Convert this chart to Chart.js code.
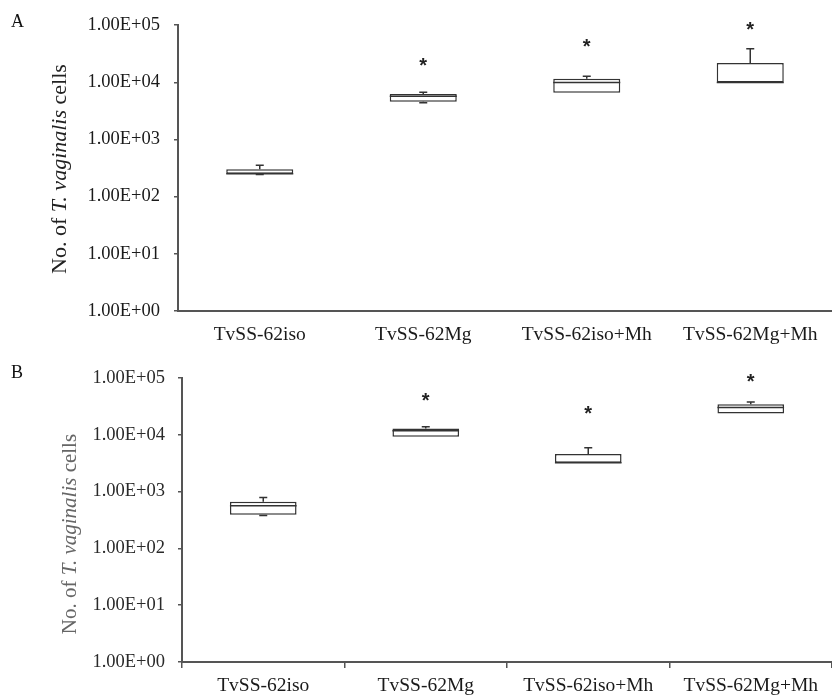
<!DOCTYPE html>
<html>
<head>
<meta charset="utf-8">
<script src="https://cdn.jsdelivr.net/npm/chart.js@4.4.1/dist/chart.umd.min.js"></script>
<style>
  html, body { margin: 0; padding: 0; background: #fff; }
  #wrap { position: relative; width: 832px; height: 695px; overflow: hidden; }
  .panel { position: absolute; left: 0; width: 832px; }
</style>
</head>
<body>
<div id="wrap">
  <div class="panel" style="top:0;height:345px"><canvas id="chartA" width="832" height="345"></canvas></div>
  <div class="panel" style="top:345px;height:350px"><canvas id="chartB" width="832" height="350"></canvas></div>
</div>
<script>
// Groups compared in both experiments
const categories = ['TvSS-62iso', 'TvSS-62Mg', 'TvSS-62iso+Mh', 'TvSS-62Mg+Mh'];

// Log-axis tick values and their labels
const tickValues = [1, 10, 100, 1000, 10000, 100000];
const tickLabels = ['1.00E+00', '1.00E+01', '1.00E+02', '1.00E+03', '1.00E+04', '1.00E+05'];

// Panel A: box-plot statistics (cell counts)
const minA = [245, 4400, 6580, 9930];
const q1A = [251, 4560, 6580, 9930];
const medianA = [251, 5680, 9930, 9930];
const q3A = [301, 6230, 11500, 21740];
const maxA = [354, 6660, 12760, 38400];
// Height at which each significance asterisk sits (null = none)
const sigA = [null, 22400, 47800, 97000];

// Panel B: box-plot statistics (cell counts)
const minB = [380, 9230, 3230, 23650];
const q1B = [390, 9230, 3230, 23650];
const medianB = [561, 11750, 3230, 30130];
const q3B = [660, 12900, 4590, 34570];
const maxB = [785, 13800, 5910, 37930];
const sigB = [null, 46400, 26900, 100000];

const SERIF = '"Liberation Serif", "Times New Roman", serif';

// Whiskers, medians, asterisks, panel letter and the rich (italic) y-axis title
const boxExtras = {
  id: 'boxExtras',
  afterDatasetsDraw(chart, args, o) {
    const ctx = chart.ctx;
    const y = chart.scales.y;
    const meta = chart.getDatasetMeta(0);
    ctx.save();
    ctx.strokeStyle = o.lineColor;
    ctx.lineWidth = 1.5;
    meta.data.forEach((bar, i) => {
      const cx = bar.x;
      const half = bar.width / 2;
      const cap = 4;
      // median
      const ym = y.getPixelForValue(o.median[i]);
      ctx.beginPath();
      ctx.moveTo(cx - half, ym);
      ctx.lineTo(cx + half, ym);
      ctx.stroke();
      // upper whisker
      const yq3 = y.getPixelForValue(o.q3[i]);
      const yMax = y.getPixelForValue(o.max[i]);
      if (o.max[i] > o.q3[i]) {
        ctx.beginPath();
        ctx.moveTo(cx, yq3);
        ctx.lineTo(cx, yMax);
        ctx.moveTo(cx - cap, yMax);
        ctx.lineTo(cx + cap, yMax);
        ctx.stroke();
      }
      // lower whisker
      const yq1 = y.getPixelForValue(o.q1[i]);
      const yMin = y.getPixelForValue(o.min[i]);
      if (o.min[i] < o.q1[i]) {
        ctx.beginPath();
        ctx.moveTo(cx, yq1);
        ctx.lineTo(cx, yMin);
        ctx.moveTo(cx - cap, yMin);
        ctx.lineTo(cx + cap, yMin);
        ctx.stroke();
      }
      // significance asterisk
      if (o.sig[i] != null) {
        ctx.fillStyle = '#222';
        ctx.font = 'bold 20px "Liberation Sans", Arial, sans-serif';
        ctx.textAlign = 'center';
        ctx.textBaseline = 'alphabetic';
        const m = ctx.measureText('*');
        const ys = y.getPixelForValue(o.sig[i]);
        const off = (m.actualBoundingBoxAscent - m.actualBoundingBoxDescent) / 2;
        ctx.fillText('*', cx, ys + off);
      }
    });
    ctx.restore();
  },
  afterDraw(chart, args, o) {
    const ctx = chart.ctx;
    const area = chart.chartArea;
    ctx.save();
    // panel letter
    ctx.fillStyle = '#111';
    ctx.font = '18px ' + SERIF;
    ctx.textAlign = 'left';
    ctx.textBaseline = 'middle';
    ctx.fillText(o.letter, o.letterX, o.letterY);
    // y-axis title with italic species name
    const parts = [
      { t: 'No. of ', f: o.titleSize + 'px ' + SERIF },
      { t: 'T. vaginalis', f: 'italic ' + o.titleSize + 'px ' + SERIF },
      { t: ' cells', f: o.titleSize + 'px ' + SERIF }
    ];
    let total = 0;
    parts.forEach(p => { ctx.font = p.f; p.w = ctx.measureText(p.t).width; total += p.w; });
    const cy = (area.top + area.bottom) / 2 + o.titleShift;
    ctx.translate(o.titleX, cy);
    ctx.rotate(-Math.PI / 2);
    ctx.fillStyle = o.titleColor;
    ctx.textBaseline = 'middle';
    let x = -total / 2;
    parts.forEach(p => { ctx.font = p.f; ctx.fillText(p.t, x, 0); x += p.w; });
    ctx.restore();
  }
};

function makePanel(id, s) {
  const floating = categories.map((c, i) => [s.q1[i], s.q3[i]]);
  return new Chart(document.getElementById(id), {
    type: 'bar',
    data: {
      labels: categories,
      datasets: [{
        data: floating,
        backgroundColor: '#ffffff',
        borderColor: s.lineColor,
        borderWidth: 1.5,
        borderSkipped: false,
        categoryPercentage: 1,
        barPercentage: 0.41
      }]
    },
    options: {
      responsive: false,
      animation: false,
      events: [],
      layout: { padding: { top: s.padTop, right: 0, left: 0, bottom: 0 } },
      plugins: {
        legend: { display: false },
        tooltip: { enabled: false },
        boxExtras: {
          lineColor: s.lineColor,
          median: s.median, q1: s.q1, q3: s.q3, min: s.min, max: s.max, sig: s.sig,
          letter: s.letter, letterX: 11, letterY: s.letterY,
          titleX: s.titleX, titleShift: s.titleShift, titleSize: s.titleSize, titleColor: s.titleColor
        }
      },
      scales: {
        x: {
          type: 'category',
          offset: true,
          afterFit(scale) { scale.height = s.xHeight; },
          border: { display: true, color: '#555', width: 2 },
          grid: {
            display: s.xTicks,
            offset: true,
            drawOnChartArea: false,
            drawTicks: true,
            tickLength: 6,
            color: '#555',
            lineWidth: 1.5
          },
          ticks: {
            color: '#1a1a1a',
            padding: s.xPad,
            maxRotation: 0,
            autoSkip: false,
            font: { family: SERIF, size: 19.5 }
          }
        },
        y: {
          type: 'logarithmic',
          min: tickValues[0],
          max: tickValues[tickValues.length - 1],
          afterFit(scale) { scale.width = s.yWidth; },
          afterBuildTicks(scale) { scale.ticks = tickValues.map(v => ({ value: v })); },
          border: { display: true, color: '#555', width: 2 },
          grid: {
            display: true,
            drawOnChartArea: false,
            drawTicks: true,
            tickLength: 4,
            color: '#555',
            lineWidth: 1.5
          },
          ticks: {
            color: s.tickColor,
            padding: s.yPad,
            font: { family: SERIF, size: 18.5 },
            callback(v) {
              const k = tickValues.indexOf(v);
              return k >= 0 ? tickLabels[k] : '';
            }
          }
        }
      }
    },
    plugins: [boxExtras]
  });
}

makePanel('chartA', {
  q1: q1A, q3: q3A, median: medianA, min: minA, max: maxA, sig: sigA,
  letter: 'A', letterY: 22, padTop: 19, xHeight: 34, yWidth: 178, yPad: 14, xPad: 6, xTicks: false,
  lineColor: '#333', tickColor: '#1a1a1a',
  titleX: 60, titleShift: 1, titleSize: 22, titleColor: '#222'
});

makePanel('chartB', {
  q1: q1B, q3: q3B, median: medianB, min: minB, max: maxB, sig: sigB,
  letter: 'B', letterY: 28, padTop: 33, xHeight: 33, yWidth: 182, yPad: 13, xPad: 6, xTicks: true,
  lineColor: '#333', tickColor: '#2a2a2a',
  titleX: 70, titleShift: 14, titleSize: 21, titleColor: '#666'
});
</script>
</body>
</html>
